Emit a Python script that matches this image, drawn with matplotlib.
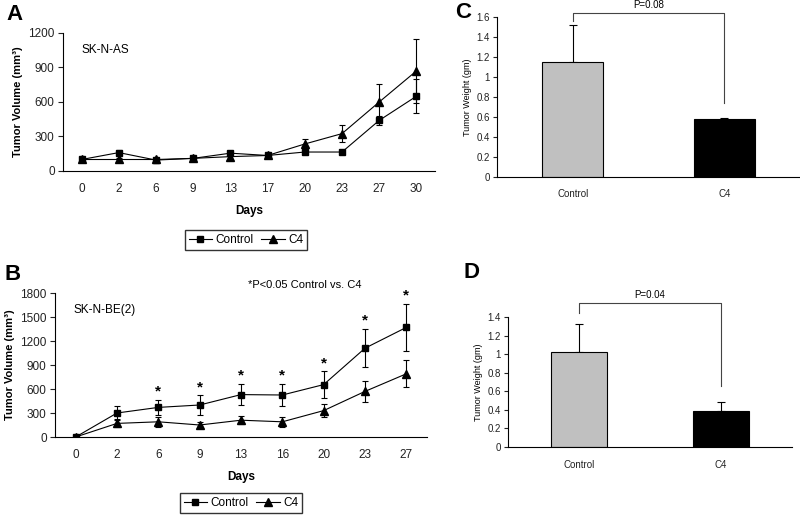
import numpy as np
import matplotlib
matplotlib.use("Agg")
import matplotlib.pyplot as plt
from matplotlib.lines import Line2D

plt.rcParams['font.family'] = ['Liberation Sans', 'DejaVu Sans']

# --- panel A: SK-N-AS ---
days_a = ['0', '2', '6', '9', '13', '17', '20', '23', '27', '30']
ctrl_a = [100, 160, 95, 110, 155, 135, 165, 165, 440, 650]
ctrl_a_err = [15, 25, 15, 15, 20, 10, 20, 10, 40, 150]
c4_a = [100, 100, 100, 110, 125, 135, 235, 325, 600, 870]
c4_a_err = [15, 15, 10, 15, 20, 10, 45, 75, 155, 280]

# --- panel B: SK-N-BE(2) ---
days_b = ['0', '2', '6', '9', '13', '16', '20', '23', '27']
ctrl_b = [0, 300, 370, 400, 530, 525, 655, 1110, 1370]
ctrl_b_err = [0, 90, 90, 120, 135, 140, 165, 240, 290]
c4_b = [0, 170, 190, 150, 210, 190, 330, 570, 790]
c4_b_err = [0, 50, 60, 40, 50, 65, 80, 135, 170]
sig_b = [False, False, True, True, True, True, True, True, True]

# --- panels C and D: tumor weight ---
groups = ['Control', 'C4']
weight_c = [1.15, 0.58]
weight_c_err = [0.37, 0.01]
weight_d = [1.02, 0.39]
weight_d_err = [0.30, 0.09]
bar_colors = ['#c0c0c0', '#000000']

W, H = 800, 516
fig = plt.figure(figsize=(W / 100, H / 100), dpi=100)


def px_axes(x0, y0, x1, y1):
    return fig.add_axes([x0 / W, 1 - y1 / H, (x1 - x0) / W, (y1 - y0) / H])


def line_panel(ax, days, ctrl, ctrl_err, c4, c4_err, ymax, step):
    x = np.arange(len(days))
    ax.errorbar(x, ctrl, yerr=ctrl_err, color='black', lw=0.8, marker='s', ms=5,
                capsize=2.5, elinewidth=0.8, capthick=0.8, zorder=3)
    ax.errorbar(x, c4, yerr=c4_err, color='black', lw=0.8, marker='^', ms=5.5,
                capsize=2.5, elinewidth=0.8, capthick=0.8, zorder=3)
    ax.set_xlim(-0.5, len(days) - 0.5)
    ax.set_ylim(0, ymax)
    ax.set_yticks(np.arange(0, ymax + 1, step))
    ax.set_xticks(x)
    ax.set_xticklabels(days)
    for s in ['top', 'right']:
        ax.spines[s].set_visible(False)
    ax.spines['left'].set_linewidth(0.8)
    ax.spines['bottom'].set_linewidth(0.8)
    ax.tick_params(axis='x', length=0, pad=9, labelsize=8.5, colors='#222222')
    ax.tick_params(axis='y', length=3.5, width=0.8, pad=2.5, labelsize=8.5, colors='#222222')
    ax.set_ylabel('Tumor Volume (mm³)', fontsize=8, fontweight='bold', labelpad=4)
    ax.set_xlabel('Days', fontsize=8.5, fontweight='bold', labelpad=7)
    return ax


def add_legend(ax, cx, cy):
    handles = [Line2D([], [], color='black', lw=0.8, marker='s', ms=5),
               Line2D([], [], color='black', lw=0.8, marker='^', ms=5.5)]
    ax.legend(handles, ['Control', 'C4'], loc='center',
              bbox_to_anchor=(cx / W, 1 - cy / H), bbox_transform=fig.transFigure,
              ncol=2, fontsize=8.5, frameon=True, fancybox=False, edgecolor='black',
              handlelength=2.0, handletextpad=0.3, columnspacing=0.6, borderpad=0.35)


# Panel A
axA = px_axes(63, 33, 435, 171)
line_panel(axA, days_a, ctrl_a, ctrl_a_err, c4_a, c4_a_err, 1200, 300)
axA.text(0.05, 0.88, 'SK-N-AS', transform=axA.transAxes, fontsize=8.5, va='center')
add_legend(axA, 246, 240)
fig.text(6 / W, 1 - 15 / H, 'A', fontsize=16, fontweight='bold', va='center')

# Panel B
axB = px_axes(55, 293, 427, 437)
line_panel(axB, days_b, ctrl_b, ctrl_b_err, c4_b, c4_b_err, 1800, 300)
axB.text(0.05, 0.88, 'SK-N-BE(2)', transform=axB.transAxes, fontsize=8.5, va='center')
for i, s in enumerate(sig_b):
    if s:
        axB.annotate('*', (i, ctrl_b[i] + ctrl_b_err[i]), xytext=(0, 1), textcoords='offset points',
                     ha='center', va='bottom', fontsize=11, fontweight='bold')
fig.text(248 / W, 1 - 285 / H, '*P<0.05 Control vs. C4', fontsize=8, va='center')
add_legend(axB, 241, 503)
fig.text(4 / W, 1 - 275 / H, 'B', fontsize=16, fontweight='bold', va='center')


def bar_panel(ax, vals, errs, ymax, bracket, ptext):
    x = np.arange(len(groups))
    ax.bar(x, vals, width=0.4, color=bar_colors, edgecolor='black', linewidth=0.8, zorder=2)
    ax.errorbar(x, vals, yerr=[[0, 0], errs], fmt='none', ecolor='black',
                elinewidth=0.8, capsize=3, capthick=0.8, zorder=1)
    ax.set_xlim(-0.5, 1.5)
    ax.set_ylim(0, ymax)
    ticks = np.round(np.arange(0, ymax + 0.01, 0.2), 1)
    ax.set_yticks(ticks)
    ax.set_yticklabels(['%g' % v for v in ticks])
    ax.set_xticks(x)
    ax.set_xticklabels(groups)
    for s in ['top', 'right']:
        ax.spines[s].set_visible(False)
    ax.spines['left'].set_linewidth(0.8)
    ax.spines['bottom'].set_linewidth(0.8)
    ax.tick_params(axis='x', length=0, pad=9, labelsize=7, colors='#222222')
    ax.tick_params(axis='y', length=3, width=0.8, pad=2, labelsize=7, colors='#222222')
    ax.set_ylabel('Tumor Weight (gm)', fontsize=6.5, labelpad=3)
    top, left_bot, right_bot = bracket
    ax.plot([0, 0, 1, 1], [left_bot, top, top, right_bot], color='#444444', lw=0.8, clip_on=False)
    ax.text(0.5, top + 0.03, ptext, ha='center', va='bottom', fontsize=7, clip_on=False)


# Panel C
axC = px_axes(497, 17, 800, 177)
bar_panel(axC, weight_c, weight_c_err, 1.6, (1.64, 1.56, 0.74), 'P=0.08')
fig.text(455 / W, 1 - 13 / H, 'C', fontsize=16, fontweight='bold', va='center')

# Panel D
axD = px_axes(508, 317, 792, 447)
bar_panel(axD, weight_d, weight_d_err, 1.4, (1.55, 1.44, 0.66), 'P=0.04')
fig.text(464 / W, 1 - 272 / H, 'D', fontsize=16, fontweight='bold', va='center')

fig.savefig('out.png', dpi=100, facecolor='white')
